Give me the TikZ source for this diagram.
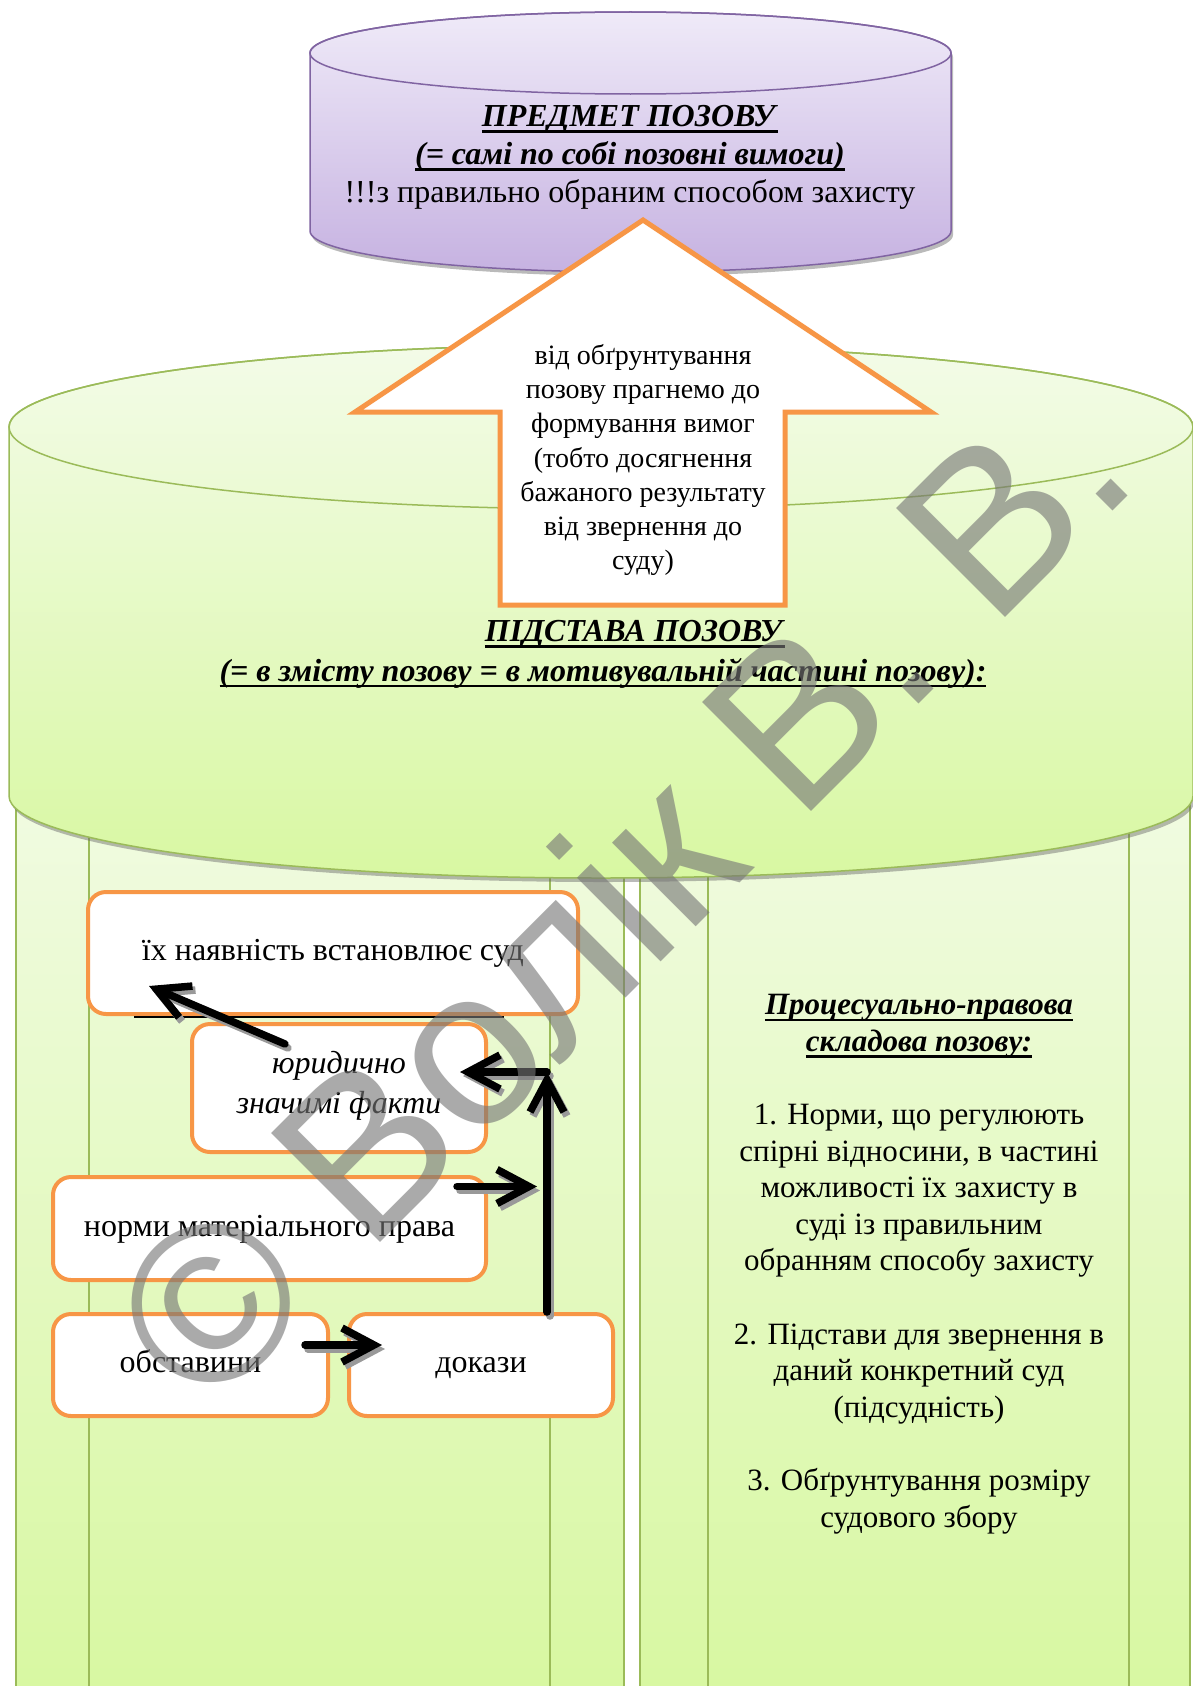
\documentclass[tikz,border=0pt]{standalone}
\usepackage{fontspec}
\setmainfont{Liberation Serif}
\newfontfamily\markfont{Liberation Sans}
\usepackage{xcolor}
\usetikzlibrary{arrows.meta,calc,shadows,positioning}
\definecolor{orangeline}{HTML}{F79646}
\definecolor{purpleline}{HTML}{8064A2}
\definecolor{purpletop}{HTML}{EFEAF8}
\definecolor{purplebot}{HTML}{C6B2E1}
\definecolor{greenline}{HTML}{9BBB59}
\definecolor{greentop}{HTML}{F3FBE8}
\definecolor{greenbot}{HTML}{D8F8A2}
\definecolor{markgray}{RGB}{118,118,118}
\newcommand{\bigfont}{\fontsize{32}{38}\selectfont}
\newcommand{\arrfont}{\fontsize{28}{34.2}\selectfont}
\newcommand{\panelfont}{\fontsize{31}{36.6}\selectfont}
\newcommand{\ulin}[1]{\leavevmode\setbox0=\hbox{#1}\rlap{\vrule width\wd0 height -4pt depth 6.4pt}\box0}

\begin{document}
\begin{tikzpicture}[x=1pt,y=-1pt,
  box/.style={draw=orangeline,line width=4pt,fill=white,rounded corners=18pt,align=center,inner sep=0pt,font=\bigfont,execute at begin node={\strut}},
  arr/.style={line width=7.5pt,line cap=round,-{Straight Barb[length=32pt,width=34pt]}},
  cyl/.style={line width=1.5pt,drop shadow={shadow xshift=2pt,shadow yshift=-4pt,opacity=.45,fill=black!60}},
  panelline/.style={draw=greenline,line width=1.5pt}]
\fill[white] (0,0) rectangle (1192,1686);
\useasboundingbox (0,0) rectangle (1192,1686);
%%%%%%%%%%%%%%%%
\path[top color=greentop,bottom color=greenbot] (16,700) rectangle (624,1686);
\path[top color=greentop,bottom color=greenbot] (640,700) rectangle (1190,1686);
\draw[panelline] (16,700) -- (16,1686);
\draw[panelline] (89,700) -- (89,1686);
\draw[panelline] (550,700) -- (550,1686);
\draw[panelline] (624,700) -- (624,1686);
\draw[panelline] (640,700) -- (640,1686);
\draw[panelline] (708,700) -- (708,1686);
\draw[panelline] (1129,700) -- (1129,1686);
\draw[panelline] (1190,700) -- (1190,1686);
%%%%%%%%%%%%%%%%
\path[cyl,draw=greenline,top color=greentop,bottom color=greenbot]
  (9,427) -- (9,796) arc[start angle=180,end angle=0,x radius=592,y radius=82]
  -- (1193,427) arc[start angle=360,end angle=180,x radius=592,y radius=82] -- cycle;
\draw[greenline,line width=1.5pt] (601,427) ellipse[x radius=592,y radius=82];
%%%%%%%%%%%%%%%%
\path[cyl,draw=purpleline,top color=purpletop,bottom color=purplebot]
  (310,53) -- (310,231) arc[start angle=180,end angle=0,x radius=320.5,y radius=41]
  -- (951,53) arc[start angle=360,end angle=180,x radius=320.5,y radius=41] -- cycle;
\draw[purpleline,line width=1.5pt] (630.5,53) ellipse[x radius=320.5,y radius=41];
\node[align=center,font=\bigfont] (predmet) at (630,157)
  {\ulin{\textbf{\textit{ПРЕДМЕТ ПОЗОВУ}}}\\
   \ulin{\textbf{\textit{(= самі по собі позовні вимоги)}}}\\
   !!!з правильно обраним способом захисту};
%%%%%%%%%%%%%%%%
\draw[draw=orangeline,line width=5pt,fill=white,miter limit=10]
  (643,220) -- (931,412) -- (785,412) -- (785,605) -- (500,605) -- (500,412) -- (355,412) -- cycle;
\node[align=center,font=\arrfont] (goal) at (643,460)
  {від обґрунтування\\ позову прагнемо до\\ формування вимог\\ (тобто досягнення\\ бажаного результату\\ від звернення до\\ суду)};
%%%%%%%%%%%%%%%%
\node[font=\bigfont] (pidstava) at (635,634) {\ulin{\textbf{\textit{ПІДСТАВА ПОЗОВУ}}}};
\node[font=\bigfont] (zmist) at (603,673) {\ulin{\textbf{\textit{(= в змісту позову = в мотивувальній частині позову):}}}};
%%%%%%%%%%%%%%%%
\node[align=center,font=\panelfont] (proc) at (919,1264)
  {\ulin{\textbf{\textit{Процесуально-правова}}}\\
   \ulin{\textbf{\textit{складова позову:}}}\\[36.6pt]
   1. Норми, що регулюють\\ спірні відносини, в частині\\ можливості їх захисту в\\ суді із правильним\\ обранням способу захисту\\[36.6pt]
   2. Підстави для звернення в\\ даний конкретний суд\\ (підсудність)\\[36.6pt]
   3. Обґрунтування розміру\\ судового збору};
%%%%%%%%%%%%%%%%
\node[box,minimum width=490pt,minimum height=122pt] (sud) at (333,953) {їх наявність встановлює суд};
\draw[line width=1.2pt] ($(sud.south west)+(48,1)$) -- ($(sud.south east)+(-76,1)$);
\node[box,minimum width=294pt,minimum height=128pt,font=\fontsize{32}{40}\selectfont] (fakty) at (339,1088) {\textit{юридично}\\ \textit{значимі факти}};
\node[box,minimum width=433pt,minimum height=103pt] (normy) at (269.5,1228.5) {норми матеріального права};
\node[box,minimum width=275pt,minimum height=102pt] (obst) at (190.5,1365) {обставини};
\node[box,minimum width=264pt,minimum height=102pt] (dokazy) at (481,1365) {докази};
%%%%%%%%%%%%%%%%
\coordinate (bend) at (547,1072);
\foreach \layer/\dx/\dy in {black!40/3/-4,black/0/0}{
\begin{scope}[color=\layer,transform canvas={shift={(\dx pt,\dy pt)}}]
\draw[arr] (dokazy.north -| bend) -- (bend);
\draw[arr] (bend) -- ($(fakty.east |- bend)+(-28,0)$);
\draw[arr] ($(normy.east)+(-31,-42)$) -- ($(normy.east -| bend)+(-10,-42)$);
\draw[arr] ($(obst.east)+(-25,-20)$) -- ($(dokazy.west)+(35,-20)$);
\draw[arr] ($(fakty.north west)+(95,22)$) -- ($(sud.south west)+(63,-30)$);
\end{scope}}
%%%%%%%%%%%%%%%%
\node[rotate=45,text=markgray,text opacity=.62,font=\markfont\fontsize{224}{224}\selectfont] (mark) at (618,892) {© Волік В. В.};
\end{tikzpicture}
\end{document}
